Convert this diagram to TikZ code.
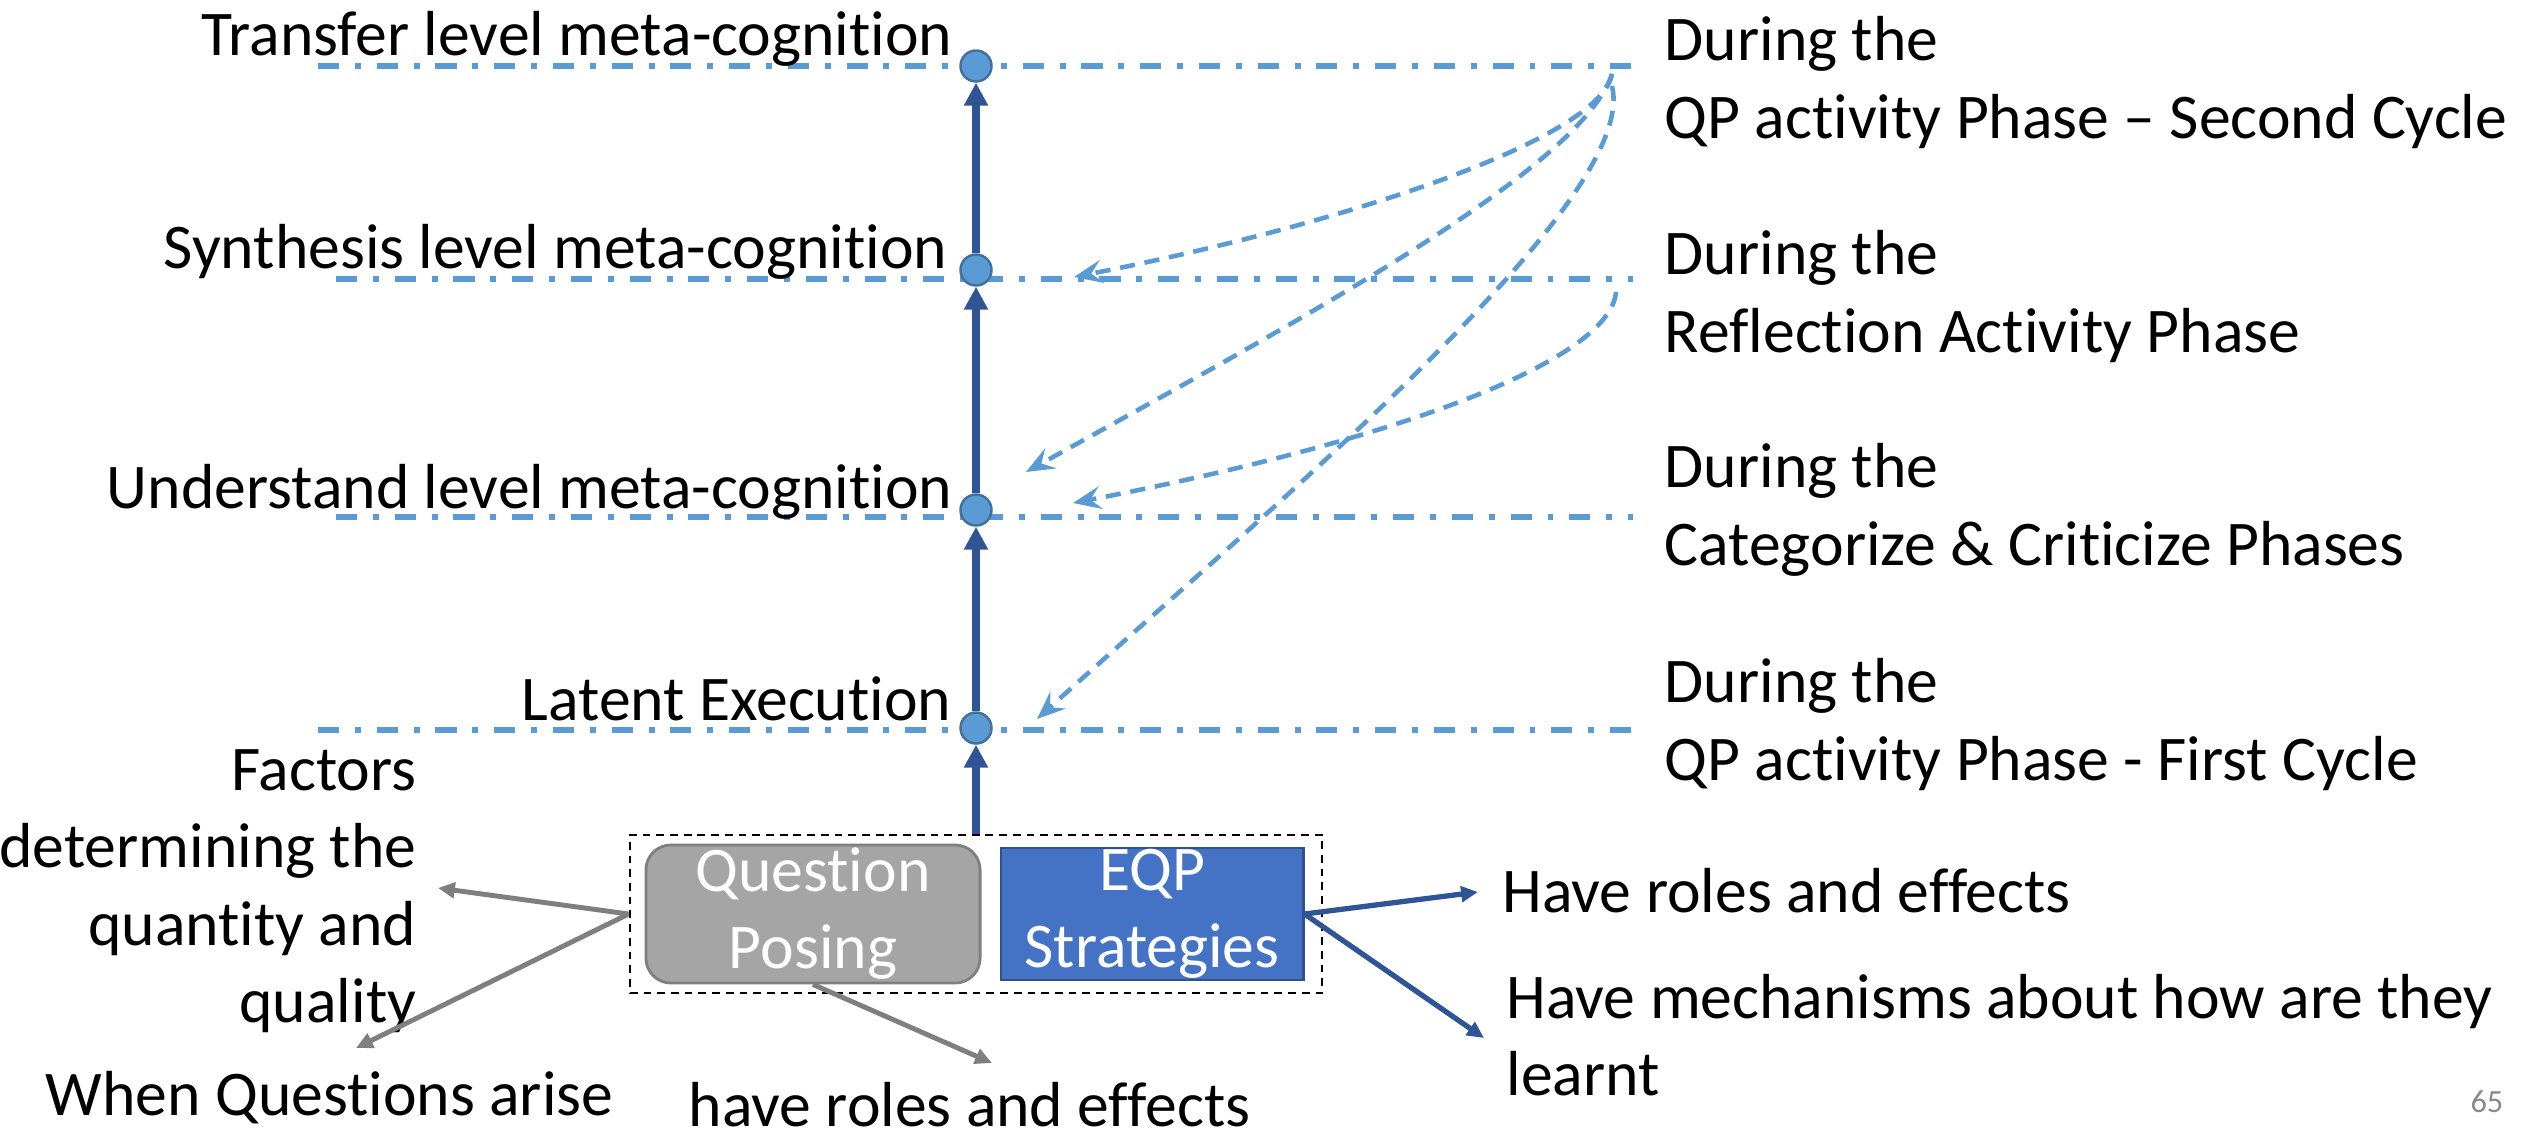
\documentclass[tikz,border=0pt]{standalone}
\usepackage{fontspec}
\setmainfont{Carlito}[Ligatures=NoCommon]
\usetikzlibrary{arrows.meta}

\definecolor{lineblue}{HTML}{5B9BD5}
\definecolor{dotedge}{HTML}{41719C}
\definecolor{arrowblue}{HTML}{2F5597}
\definecolor{qpfill}{HTML}{A5A5A5}
\definecolor{qpedge}{HTML}{7F7F7F}
\definecolor{eqpfill}{HTML}{4472C4}
\definecolor{eqpedge}{HTML}{2F528F}
\definecolor{pagegray}{HTML}{898989}

\tikzset{
  txt/.style={inner sep=0pt, font=\fontsize{18.1}{21.9}\selectfont},
  level/.style={lineblue, line width=1.6pt, dash pattern=on 6pt off 4.5pt on 1.7pt off 4.5pt},
  dot/.style={circle, fill=lineblue, draw=dotedge, line width=0.7pt, minimum size=0.31cm, inner sep=0pt},
  climb/.style={arrowblue, line width=2.2pt, -{Triangle[length=6.5pt,width=6.5pt]}},
  phase/.style={lineblue, line width=1.3pt, dash pattern=on 4.3pt off 2.8pt, -{Stealth[length=8pt,width=6.5pt,inset=3pt]}},
  qpbox/.style={txt, align=center, text=white, fill=qpfill, draw=qpedge, line width=0.8pt, rounded corners=0.25cm, minimum width=3.34cm, minimum height=1.38cm},
  eqpbox/.style={txt, align=center, text=white, fill=eqpfill, draw=eqpedge, line width=0.8pt, minimum width=3.02cm, minimum height=1.32cm},
  groupbox/.style={draw=black, line width=0.7pt, dash pattern=on 2.2pt off 1.7pt, minimum width=6.92cm, minimum height=1.58cm, inner sep=0pt},
  grayarrow/.style={qpedge, line width=1.4pt, -{Triangle[length=4.8pt,width=4.4pt]}},
  bluearrow/.style={arrowblue, line width=1.5pt, -{Triangle[length=4.8pt,width=4.4pt]}}
}

\begin{document}
\begin{tikzpicture}[x=0.01cm, y=-0.01cm]
\useasboundingbox (0,0) rectangle (2521,1145);

\draw[level] (318,66) -- (1633,66);
\draw[level] (336,279) -- (1633,279);
\draw[level] (336,517) -- (1633,517);
\draw[level] (318,730) -- (1633,730);

\node[dot] (transfer) at (976,66) {};
\node[dot] (synth) at (976,270) {};
\node[dot] (underst) at (976,510) {};
\node[dot] (latent) at (976,728) {};

\node[txt, anchor=base east] (transferlbl) at (953,55) {Transfer level meta-cognition};
\node[txt, anchor=base east] (synthlbl) at (948,268) {Synthesis level meta-cognition};
\node[txt, anchor=base east] (understlbl) at (953,508) {Understand level meta-cognition};
\node[txt, anchor=base east] (latentlbl) at (952,720) {Latent Execution};

\node[txt, align=left, anchor=base west] (phasefour) at (1664,138) {During the\\QP activity Phase – Second Cycle};
\node[txt, align=left, anchor=base west] (phasethree) at (1664,352) {During the\\Reflection Activity Phase};
\node[txt, align=left, anchor=base west] (phasetwo) at (1664,565) {During the\\Categorize \& Criticize Phases};
\node[txt, align=left, anchor=base west] (phaseone) at (1664,780) {During the\\QP activity Phase - First Cycle};

\node[groupbox] (group) at (976,914) {};
\node[qpbox] (qp) at (813,914) {Question\\Posing};
\node[eqpbox] (eqp) at (1152,914) {EQP\\Strategies};

\draw[climb] (group.north) -- (latent);
\draw[climb] (latent) -- (underst);
\draw[climb] (underst) -- (synth);
\draw[climb] (synth) -- (transfer);

\coordinate (topend) at (1612,74);
\coordinate (topendb) at (1612,86);
\coordinate (synend) at (1616,292);
\coordinate (synhit) at (1074,277);
\coordinate (undhit) at (1026,472);
\coordinate (undhitb) at (1073,503);
\coordinate (lathit) at (1037,719);
\draw[phase] (topend) .. controls (1600,140) and (1340,225) .. (synhit);
\draw[phase] (topend) .. controls (1580,170) and (1300,320) .. (undhit);
\draw[phase] (topendb) .. controls (1640,200) and (1280,500) .. (lathit);
\draw[phase] (synend) .. controls (1610,360) and (1400,440) .. (undhitb);

\node[txt, align=right, anchor=base east] (factors) at (417,1022) {Factors\\determining the\\quantity and\\quality};
\node[txt, anchor=base west] (when) at (45,1115) {When Questions arise};
\node[txt, anchor=base west] (qproles) at (688,1126) {have roles and effects};
\node[txt, anchor=base west] (eqproles) at (1502,912) {Have roles and effects};
\node[txt, align=left, anchor=base west] (mech) at (1506,1095) {Have mechanisms about how are they\\learnt};
\node[inner sep=0pt, anchor=base east, text=pagegray, font=\fontsize{9.2}{11}\selectfont] (pagenum) at (2504,1112) {65};

\coordinate (factorstip) at (438,888);
\coordinate (whentip) at (356,1048);
\coordinate (rolestip) at (992,1063);
\coordinate (eqprolestip) at (1478,892);
\coordinate (mechtip) at (1484,1038);
\draw[grayarrow] (group.west) -- (factorstip);
\draw[grayarrow] (group.west) -- (whentip);
\draw[grayarrow] (qp.south) -- (rolestip);
\draw[bluearrow] (eqp.east) -- (eqprolestip);
\draw[bluearrow] (eqp.east) -- (mechtip);
\end{tikzpicture}
\end{document}
